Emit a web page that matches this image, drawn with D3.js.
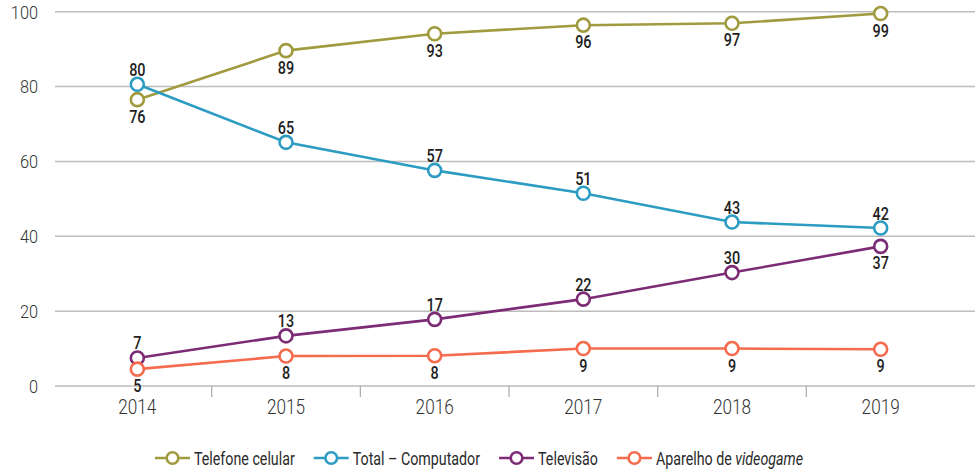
<!DOCTYPE html>
<html>
<head>
<meta charset="utf-8">
<script src="https://d3js.org/d3.v7.min.js"></script>
<style>
  body { margin: 0; background: #fff; }
  svg text { font-family: Roboto, "Noto Sans", sans-serif; }
</style>
</head>
<body>
<svg width="975" height="470"></svg>
<script>
// data
var years = ["2014", "2015", "2016", "2017", "2018", "2019"];
var yTicks = [0, 20, 40, 60, 80, 100];

var telefone = [76.5, 89.6, 94.1, 96.4, 96.9, 99.5];
var telefoneLabels = ["76", "89", "93", "96", "97", "99"];

var computador = [80.6, 65.1, 57.6, 51.5, 43.8, 42.2];
var computadorLabels = ["80", "65", "57", "51", "43", "42"];

var televisao = [7.5, 13.4, 17.8, 23.2, 30.3, 37.3];
var televisaoLabels = ["7", "13", "17", "22", "30", "37"];

var videogame = [4.5, 8.0, 8.1, 10.0, 10.0, 9.8];
var videogameLabels = ["5", "8", "8", "9", "9", "9"];

var series = [
    {name: "Telefone celular", values: telefone, labels: telefoneLabels, color: "#a09b3f", pos: ["b","b","b","b","b","b"]},
    {name: "Total – Computador", values: computador, labels: computadorLabels, color: "#2d9cc2", pos: ["a","a","a","a","a","a"]},
    {name: "Televisão", values: televisao, labels: televisaoLabels, color: "#7c2b75", pos: ["a","a","a","a","a","b"]},
    {name: "Aparelho de ", italic: "videogame", values: videogame, labels: videogameLabels, color: "#f46b4e", pos: ["b","b","b","b","b","b"]}
];

var svg = d3.select("svg");

var x = d3.scaleBand().domain(years).range([63, 955]);
var y = d3.scaleLinear().domain([0, 100]).range([386, 11.7]);

// condensed look: squeeze text horizontally
function squeeze(px, py, sx) {
    return "translate(" + px + "," + py + ") scale(" + sx + ",1)";
}

// grid
svg.append("g").selectAll("line")
    .data(yTicks)
    .enter().append("line")
    .attr("x1", 55).attr("x2", 975)
    .attr("y1", function(d) { return y(d); })
    .attr("y2", function(d) { return y(d); })
    .attr("stroke", "#bdbdbd")
    .attr("stroke-width", 1.5);

// y labels
svg.append("g").selectAll("text")
    .data(yTicks)
    .enter().append("text")
    .attr("transform", function(d) { return squeeze(38, y(d) + 6.8, 0.86); })
    .attr("text-anchor", "end")
    .attr("font-size", 19)
    .attr("font-weight", 300)
    .attr("fill", "#333")
    .text(function(d) { return d; });

// x ticks between years
svg.append("g").selectAll("line")
    .data(years.slice(1))
    .enter().append("line")
    .attr("x1", function(d) { return x(d); })
    .attr("x2", function(d) { return x(d); })
    .attr("y1", 386).attr("y2", 397)
    .attr("stroke", "#aaa")
    .attr("stroke-width", 1.2);

svg.append("g").selectAll("text")
    .data(years)
    .enter().append("text")
    .attr("transform", function(d) { return squeeze(x(d) + x.bandwidth() / 2, 414, 0.86); })
    .attr("text-anchor", "middle")
    .attr("font-size", 20)
    .attr("font-weight", 300)
    .attr("fill", "#333")
    .text(function(d) { return d; });

var cx = function(d, i) { return x(years[i]) + x.bandwidth() / 2; };

var line = d3.line()
    .x(function(d, i) { return x(years[i]) + x.bandwidth() / 2; })
    .y(function(d) { return y(d); });

series.forEach(function(s) {
    svg.append("path")
        .datum(s.values)
        .attr("d", line)
        .attr("fill", "none")
        .attr("stroke", s.color)
        .attr("stroke-width", 2.6);
});

series.forEach(function(s) {
    var g = svg.append("g");
    g.selectAll("circle")
        .data(s.values)
        .enter().append("circle")
        .attr("cx", cx)
        .attr("cy", function(d) { return y(d); })
        .attr("r", 6.5)
        .attr("fill", "#fff")
        .attr("stroke", s.color)
        .attr("stroke-width", 2.6);
    g.selectAll("text")
        .data(s.values)
        .enter().append("text")
        .attr("transform", function(d, i) {
            var ty = s.pos[i] === "a" ? y(d) - 8.5 : y(d) + 23;
            return squeeze(cx(d, i), ty, 0.8);
        })
        .attr("text-anchor", "middle")
        .attr("font-size", 18)
        .attr("font-weight", 500)
        .attr("fill", "#222")
        .text(function(d, i) { return s.labels[i]; });
});

// legend
var lx = 155, ly = 458, sx = 0.75;
series.forEach(function(s) {
    var g = svg.append("g").attr("transform", "translate(" + lx + "," + ly + ")");
    g.append("line").attr("x1", 0).attr("x2", 35)
        .attr("stroke", s.color).attr("stroke-width", 2.6);
    g.append("circle").attr("cx", 17.5).attr("r", 5.8)
        .attr("fill", "#fff").attr("stroke", s.color).attr("stroke-width", 2.6);
    var t = g.append("text").attr("transform", squeeze(39, 7, sx))
        .attr("font-size", 19).attr("fill", "#2a2a2a");
    t.append("tspan").text(s.name);
    if (s.italic) t.append("tspan").attr("font-style", "italic").text(s.italic);
    lx += 39 + t.node().getComputedTextLength() * sx + 19;
});
</script>
</body>
</html>
